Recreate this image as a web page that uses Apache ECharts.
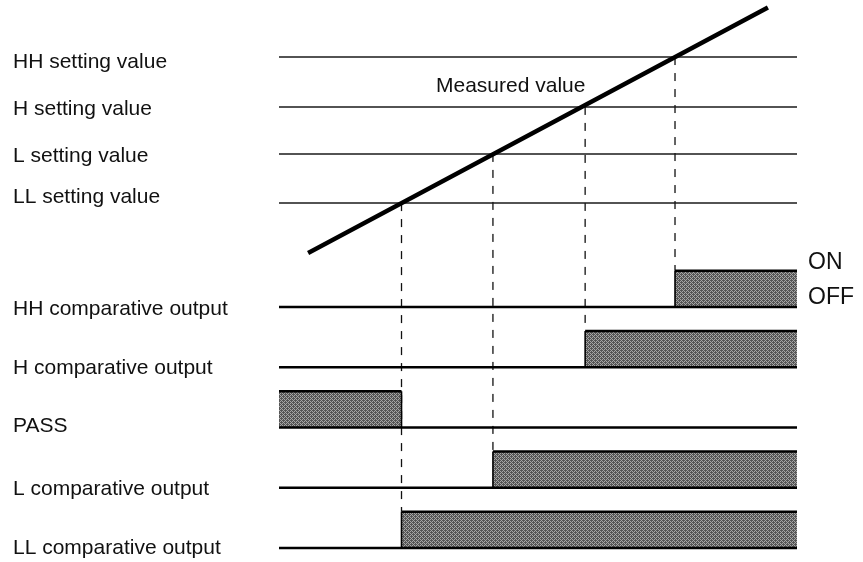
<!DOCTYPE html>
<html><head><meta charset="utf-8">
<script src="https://cdn.jsdelivr.net/npm/echarts@6/dist/echarts.min.js"></script>
<style>html,body{margin:0;padding:0;background:#fff}#c{width:863px;height:562px}</style>
</head><body><div id="c"></div>
<script>
// ---------- data (time axis 0..100, level axis: measured value units) ----------
const settingNames  = ['HH setting value', 'H setting value', 'L setting value', 'LL setting value'];
const settingLevels = [80.9, 60.2, 40.7, 20.3];
const measured      = [[6.0, 0], [94.0, 101]];           // measured value ramp (time, level)
const measuredLabel = 'Measured value';
const switchTimes   = [76.45, 59.1, 41.3, 23.65];         // times where measured crosses HH, H, L, LL
const switchRows    = [0, 1, 3, 4];                       // output row switched by each crossing
const outputNames   = ['HH comparative output', 'H comparative output', 'PASS', 'L comparative output', 'LL comparative output'];
const onIntervals   = [[[76.45, 100]], [[59.1, 100]], [[0, 23.65]], [[41.3, 100]], [[23.65, 100]]];
const stateLabels   = ['ON', 'OFF'];

// ---------- layout ----------
const PX_PER_UNIT = 2.41, Y0_PX = 252, Y_MAX = 104, Y_MIN = -128;
const ROW0 = -22.8, ROW_STEP = 25, BOX_H = 15;
const FONT = '"Liberation Sans", Arial, Helvetica, sans-serif';
const settingLabelPx = [62, 109, 156, 197];
const outputLabelPx  = [309, 368, 426, 489, 548];

function pattern() {
  const c = document.createElement('canvas'); c.width = 4; c.height = 4;
  const g = c.getContext('2d');
  g.fillStyle = '#a6a6a6'; g.fillRect(0, 0, 4, 4);
  g.fillStyle = '#555555';
  [[0,0],[2,0],[1,1],[3,1],[0,2],[2,2],[1,3],[3,3],[3,0],[1,2]].forEach(p => g.fillRect(p[0], p[1], 1, 1));
  return { image: c, repeat: 'repeat' };
}
const FILL = pattern();

const chart = echarts.init(document.getElementById('c'), null, { renderer: 'canvas' });
const series = [];

settingLevels.forEach(lv => series.push({
  type: 'line', data: [[0, lv], [100, lv]], symbol: 'none', silent: true,
  lineStyle: { color: '#1a1a1a', width: 1.5 }, z: 2
}));

switchTimes.forEach((t, k) => {
  const rowTop = ROW0 - switchRows[k] * ROW_STEP + BOX_H;
  series.push({
    type: 'line', data: [[t, settingLevels[k]], [t, rowTop]], symbol: 'none', silent: true,
    lineStyle: { color: '#111', width: 1.3, type: [8, 8] }, z: 1
  });
});

series.push({
  type: 'line', data: measured, symbol: 'none', silent: true, clip: false,
  lineStyle: { color: '#000', width: 4.5, cap: 'square' }, z: 5
});

series.push({
  type: 'custom', coordinateSystem: 'cartesian2d', clip: false, silent: true, z: 3,
  data: outputNames.map((n, i) => [i]),
  renderItem(params, api) {
    const i = api.value(0);
    const base = ROW0 - i * ROW_STEP, on = base + BOX_H;
    const ch = [];
    const line = (a, b, w) => ({
      type: 'line',
      shape: { x1: a[0], y1: a[1], x2: b[0], y2: b[1] },
      style: { stroke: '#000', lineWidth: w }
    });
    onIntervals[i].forEach(([a, b]) => {
      const p1 = api.coord([a, on]), p2 = api.coord([b, base]);
      ch.push({ type: 'rect', shape: { x: p1[0], y: p1[1], width: p2[0] - p1[0], height: p2[1] - p1[1] }, style: { fill: FILL } });
      ch.push(line(api.coord([a, on]), api.coord([b, on]), 2.4));
      if (a > 0) ch.push(line(api.coord([a, on]), api.coord([a, base]), 1.6));
      if (b < 100) ch.push(line(api.coord([b, on]), api.coord([b, base]), 1.6));
    });
    ch.push(line(api.coord([0, base]), api.coord([100, base]), 2.6));
    return { type: 'group', children: ch };
  }
});

const txt = (s, x, y, size) => ({
  type: 'text', x: x, y: y, silent: true,
  style: { text: s, fill: '#111', font: size + 'px ' + FONT, align: 'left', verticalAlign: 'middle' }
});
const graphics = [];
settingNames.forEach((s, i) => graphics.push(txt(s, 13, settingLabelPx[i], 21)));
outputNames.forEach((s, i) => graphics.push(txt(s, 13, outputLabelPx[i], 21)));
graphics.push(txt(measuredLabel, 436, 86, 21));
graphics.push(txt(stateLabels[0], 808, 263, 23));
graphics.push(txt(stateLabels[1], 808, 298, 23));

chart.setOption({
  animation: false,
  backgroundColor: '#fff',
  grid: { left: 279, right: 66, top: Y0_PX - Y_MAX * PX_PER_UNIT, height: (Y_MAX - Y_MIN) * PX_PER_UNIT },
  xAxis: { type: 'value', min: 0, max: 100, show: false },
  yAxis: { type: 'value', min: Y_MIN, max: Y_MAX, show: false },
  series: series,
  graphic: graphics
});
</script></body></html>
